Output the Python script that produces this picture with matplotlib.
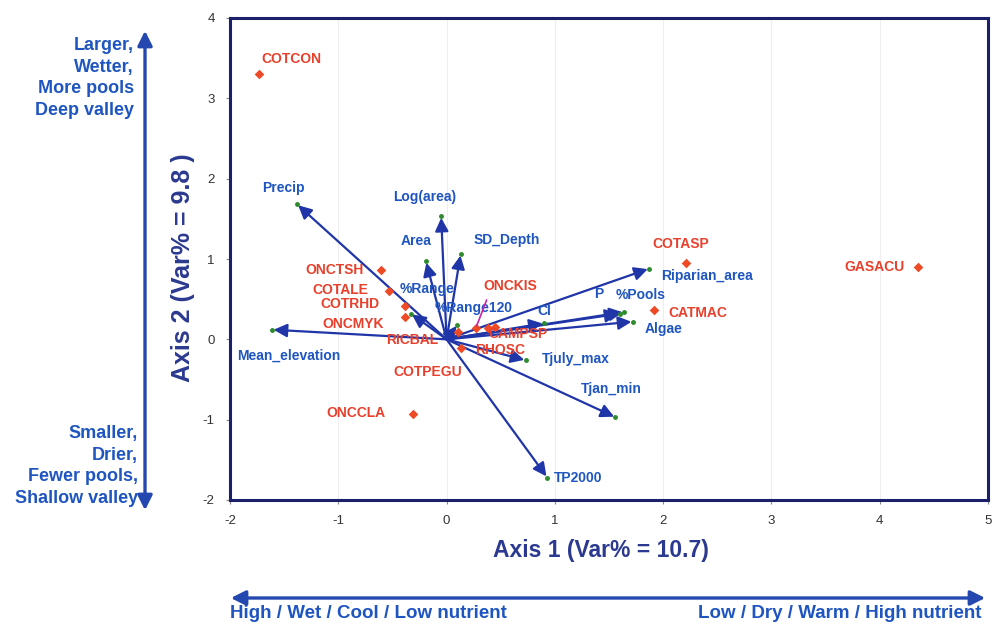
import matplotlib
matplotlib.use("Agg")
import matplotlib.pyplot as plt
from matplotlib.patches import FancyArrowPatch

plt.rcParams['font.family'] = ['Liberation Sans', 'DejaVu Sans']
plt.rcParams['axes.unicode_minus'] = False

# ---- data: environmental vectors (biplot arrows) ----
var_names = ["Precip", "Log(area)", "Area", "SD_Depth", "%Range", "%Range120",
             "Mean_elevation", "Riparian_area", "CI", "P", "%Pools", "Algae",
             "Tjuly_max", "Tjan_min", "TP2000"]
var_x = [-1.38, -0.05, -0.19, 0.13, -0.33, 0.10, -1.61, 1.87, 0.90, 1.60, 1.64, 1.72,
         0.73, 1.56, 0.93]
var_y = [1.68, 1.53, 0.97, 1.06, 0.32, 0.18, 0.12, 0.88, 0.20, 0.32, 0.34, 0.22,
         -0.26, -0.97, -1.72]

# ---- data: species scores ----
sp_names = ["COTCON", "COTASP", "GASACU", "CATMAC", "ONCTSH", "COTALE", "COTRHD",
            "ONCMYK", "ONCCLA", "RICBAL", "ONCKIS", "CAMPSP", "RHOSC", "COTPEGU"]
sp_x = [-1.73, 2.21, 4.35, 1.92, -0.61, -0.53, -0.38, -0.38, -0.31, 0.11, 0.27,
        0.45, 0.38, 0.13]
sp_y = [3.30, 0.95, 0.90, 0.36, 0.86, 0.60, 0.42, 0.28, -0.93, 0.09, 0.14,
        0.15, 0.14, -0.11]

x_ticks = [-2, -1, 0, 1, 2, 3, 4, 5]
y_ticks = [-2, -1, 0, 1, 2, 3, 4]

# ---- layout (label offsets in points) ----
var_lab_off = {"Precip": (-10, 12), "Log(area)": (-12, 14), "Area": (-7, 15),
               "SD_Depth": (33, 10), "%Range": (12, 18), "%Range120": (12, 12),
               "Mean_elevation": (12, -19), "Riparian_area": (42, -5), "CI": (0, 9),
               "P": (-15, 14), "%Pools": (12, 12), "Algae": (22, -5),
               "Tjuly_max": (36, 1), "Tjan_min": (-3, 20), "TP2000": (22, 0)}
sp_lab_off = {"COTCON": (23, 11), "COTASP": (-4, 14), "GASACU": (-31, 0),
              "CATMAC": (31, -2), "ONCTSH": (-33, 0), "COTALE": (-35, 1),
              "COTRHD": (-40, 1), "ONCMYK": (-38, -5), "ONCCLA": (-41, 1),
              "RICBAL": (-33, -6), "ONCKIS": (25, 30), "CAMPSP": (16, -5),
              "RHOSC": (9, -16), "COTPEGU": (-24, -17)}

arrow_col = "#1f35a8"
vlab_col = "#1f55c0"
sp_col = "#ee4a26"
splab_col = "#e8402c"
frame_col = "#1c1f6a"

fig = plt.figure(figsize=(9.95, 6.35), dpi=100)
ax = fig.add_axes([230 / 995, 1 - 500 / 635, 758 / 995, 482 / 635])
ax.set_xlim(-2, 5)
ax.set_ylim(-2, 4)
ax.set_xticks(x_ticks)
ax.set_yticks(y_ticks)
ax.tick_params(length=3, color="#888888", labelsize=9.5, labelcolor="#333333", pad=8)
for s in ax.spines.values():
    s.set_color(frame_col)
    s.set_linewidth(2.2)
for xv in x_ticks[1:-1]:
    ax.axvline(xv, color="#eeeeee", lw=0.8, zorder=0)

# arrows
for n, x, y in zip(var_names, var_x, var_y):
    ax.annotate("", xy=(x, y), xytext=(0, 0),
                arrowprops=dict(arrowstyle="-|>", color=arrow_col, lw=1.6,
                                mutation_scale=20, shrinkA=0, shrinkB=1),
                zorder=3)
    ax.plot([x], [y], "o", color="#2d8a2d", ms=2.5, zorder=4)
    dx, dy = var_lab_off[n]
    ax.annotate(n, xy=(x, y), xytext=(dx, dy), textcoords="offset points",
                ha="center", va="center", fontsize=10, fontweight="bold",
                color=vlab_col, zorder=5)

# species
ax.scatter(sp_x, sp_y, marker="D", s=24, color=sp_col, zorder=4, linewidths=0)
for n, x, y in zip(sp_names, sp_x, sp_y):
    dx, dy = sp_lab_off[n]
    ax.annotate(n, xy=(x, y), xytext=(dx, dy), textcoords="offset points",
                ha="center", va="center", fontsize=10, fontweight="bold",
                color=splab_col, zorder=5)
# ONCKIS leader
i = sp_names.index("ONCKIS")
ax.annotate("", xy=(sp_x[i], sp_y[i]), xytext=(sp_x[i] + 0.1, sp_y[i] + 0.35),
            arrowprops=dict(arrowstyle="-", color="#cc22aa", lw=1.2,
                            shrinkA=0, shrinkB=2), zorder=5)

# axis titles
fig.text(601 / 995, 1 - 551 / 635, "Axis 1 (Var% = 10.7)", ha="center", va="center",
         fontsize=16.5, fontweight="bold", color="#2b3990")
fig.text(183 / 995, 1 - 268 / 635, "Axis 2 (Var% = 9.8 )", ha="center", va="center",
         rotation=90, fontsize=18, fontweight="bold", color="#2b3990")

# outer double arrows
fig.add_artist(FancyArrowPatch((228 / 995, 1 - 598 / 635), (988 / 995, 1 - 598 / 635),
                               transform=fig.transFigure, arrowstyle="<|-|>",
                               mutation_scale=22, lw=2.4, color="#2547b0"))
fig.add_artist(FancyArrowPatch((145 / 995, 1 - 513 / 635), (145 / 995, 1 - 28 / 635),
                               transform=fig.transFigure, arrowstyle="<|-|>",
                               mutation_scale=22, lw=2.4, color="#2547b0"))

txt_col = "#1f55c0"
fig.text(230 / 995, 1 - 613 / 635, "High / Wet / Cool / Low nutrient", ha="left",
         va="center", fontsize=13.5, fontweight="bold", color=txt_col)
fig.text(982 / 995, 1 - 613 / 635, "Low / Dry / Warm / High nutrient", ha="right",
         va="center", fontsize=13.5, fontweight="bold", color=txt_col)
fig.text(134 / 995, 1 - 78 / 635, "Larger,\nWetter,\nMore pools\nDeep valley",
         ha="right", va="center", fontsize=13, fontweight="bold", color=txt_col,
         linespacing=1.35)
fig.text(138 / 995, 1 - 466 / 635, "Smaller,\nDrier,\nFewer pools,\nShallow valley",
         ha="right", va="center", fontsize=13, fontweight="bold", color=txt_col,
         linespacing=1.35)

fig.savefig("out.png", dpi=100)
